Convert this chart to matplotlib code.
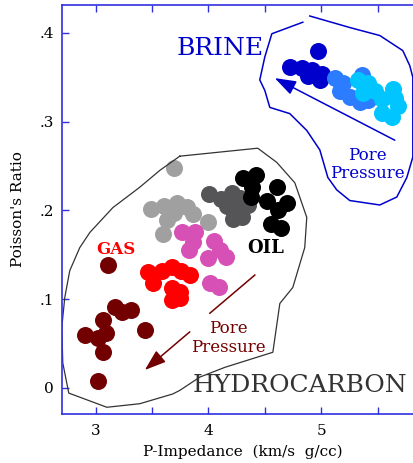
import matplotlib
matplotlib.use("Agg")
from matplotlib import pyplot as plt

plt.rcParams['font.family'] = ['DejaVu Serif']

# P-impedance (x) and Poisson's ratio (y) for every cloud of points
brown_x = [3.107, 3.169, 3.231, 3.311, 3.062, 3.435, 2.902, 3.089, 3.018, 3.062, 3.018]
brown_y = [0.138, 0.091, 0.085, 0.0875, 0.076, 0.065, 0.059, 0.062, 0.056, 0.040, 0.008]

red_x = [3.461, 3.586, 3.674, 3.754, 3.834, 3.506, 3.674, 3.745, 3.674, 3.745]
red_y = [0.130, 0.132, 0.136, 0.132, 0.127, 0.118, 0.112, 0.108, 0.099, 0.101]

lgray_x = [3.692, 3.488, 3.603, 3.719, 3.807, 3.861, 3.630, 3.594, 3.994, 3.692]
lgray_y = [0.248, 0.201, 0.205, 0.208, 0.204, 0.196, 0.189, 0.173, 0.187, 0.197]

magenta_x = [3.763, 3.878, 3.861, 3.825, 4.047, 4.100, 3.994, 4.153, 4.012, 4.091]
magenta_y = [0.175, 0.176, 0.164, 0.155, 0.165, 0.155, 0.146, 0.147, 0.118, 0.113]

dgray_x = [4.003, 4.109, 4.207, 4.278, 4.162, 4.233, 4.349, 4.216, 4.295]
dgray_y = [0.218, 0.2125, 0.220, 0.214, 0.205, 0.202, 0.206, 0.190, 0.193]

black_x = [4.304, 4.420, 4.384, 4.375, 4.517, 4.606, 4.695, 4.615, 4.553, 4.642]
black_y = [0.236, 0.240, 0.226, 0.215, 0.211, 0.226, 0.208, 0.200, 0.185, 0.180]

blue_x = [4.970, 4.721, 4.828, 4.917, 5.005, 4.988, 4.881]
blue_y = [0.380, 0.362, 0.360, 0.358, 0.354, 0.347, 0.351]

mblue_x = [5.121, 5.192, 5.165, 5.254, 5.343, 5.360, 5.413]
mblue_y = [0.349, 0.343, 0.335, 0.328, 0.322, 0.352, 0.324]

cyan_x = [5.325, 5.413, 5.369, 5.476, 5.635, 5.538, 5.680, 5.538, 5.626, 5.653]
cyan_y = [0.3465, 0.344, 0.332, 0.335, 0.337, 0.326, 0.318, 0.310, 0.305, 0.327]

# outlines
hc_x = [3.745, 4.437, 4.606, 4.766, 4.872, 4.854, 4.748, 4.633, 4.571, 4.145, 3.923, 3.745,
        3.683, 3.390, 3.098, 2.760, 2.707, 2.698, 2.725, 2.769, 2.858, 2.947, 3.151, 3.390,
        3.568, 3.745]
hc_y = [0.261, 0.270, 0.254, 0.231, 0.192, 0.158, 0.113, 0.095, 0.040, 0.023, 0.012, -0.003,
        -0.007, -0.018, -0.022, -0.006, 0.028, 0.068, 0.102, 0.132, 0.158, 0.175, 0.203, 0.226,
        0.245, 0.261]

brine_x = [4.899, 5.254, 5.520, 5.724, 5.786, 5.813, 5.813, 5.760, 5.671, 5.520, 5.254, 5.138,
           5.059, 4.988, 4.872, 4.721, 4.544, 4.500, 4.455, 4.500, 4.562, 4.837]
brine_y = [0.419, 0.406, 0.397, 0.380, 0.363, 0.350, 0.260, 0.237, 0.215, 0.206, 0.211, 0.223,
           0.237, 0.268, 0.290, 0.309, 0.316, 0.335, 0.347, 0.373, 0.399, 0.412]

x_ticks = [3, 4, 5]
x_minor = [3.5, 4.5, 5.5]
y_ticks = [0, 0.1, 0.2, 0.3, 0.4]
y_labels = ["0", ".1", ".2", ".3", ".4"]

AX_BLUE = '#3030e0'

fig = plt.figure(figsize=(4.13, 4.63), dpi=100)
ax = fig.add_axes([0.1501, 0.1058, 0.85, 0.8834])

ax.plot(hc_x, hc_y, '-', color='#333333', lw=0.9)
ax.plot(brine_x, brine_y, '-', color='#0000cc', lw=1.1)

s = 150
ax.scatter(brown_x, brown_y, s=s, c='#730000', lw=0)
ax.scatter(red_x, red_y, s=s, c='#ff0000', lw=0)
ax.scatter(lgray_x, lgray_y, s=s, c='#a0a0a0', lw=0)
ax.scatter(magenta_x, magenta_y, s=s, c='#d650b6', lw=0)
ax.scatter(dgray_x, dgray_y, s=s, c='#555558', lw=0)
ax.scatter(black_x, black_y, s=s, c='#000000', lw=0)
ax.scatter(blue_x, blue_y, s=s, c='#0000cd', lw=0)
ax.scatter(mblue_x, mblue_y, s=s, c='#2b7cff', lw=0)
ax.scatter(cyan_x, cyan_y, s=s, c='#00c5ff', lw=0)

# pore pressure arrows
ax.plot([4.411, 4.012], [0.127, 0.084], '-', color='#730000', lw=1.1)
ax.annotate("", xy=(3.435, 0.020), xytext=(3.834, 0.063),
            arrowprops=dict(arrowstyle='-|>,head_length=1.3,head_width=0.45',
                            color='#730000', lw=1.1, shrinkA=0, shrinkB=0))
ax.annotate("", xy=(4.588, 0.349), xytext=(5.653, 0.279),
            arrowprops=dict(arrowstyle='-|>,head_length=1.3,head_width=0.45',
                            color='#0000cc', lw=1.1, shrinkA=0, shrinkB=0))

ax.text(4.100, 0.382, "BRINE", color='#0000cc', fontsize=18, ha='center', va='center')
ax.text(4.810, 0.003, "HYDROCARBON", color='#333333', fontsize=18, ha='center', va='center')
ax.text(3.177, 0.156, "GAS", color='#ff0000', fontsize=12, fontweight='bold', ha='center', va='center')
ax.text(4.508, 0.157, "OIL", color='black', fontsize=13, fontweight='bold', ha='center', va='center')
ax.text(4.180, 0.056, "Pore\nPressure", color='#730000', fontsize=12, ha='center', va='center',
        linespacing=1.1)
ax.text(5.413, 0.252, "Pore\nPressure", color='#0000cc', fontsize=12, ha='center', va='center',
        linespacing=1.1)

ax.set_xlim(2.70, 5.815)
ax.set_ylim(-0.0296, 0.4314)
ax.set_xticks(x_ticks)
ax.set_xticks(x_minor, minor=True)
ax.set_yticks(y_ticks)
ax.set_yticklabels(y_labels)

ax.tick_params(axis='both', which='both', direction='in', color=AX_BLUE, length=5, width=1,
               labelsize=11, top=True)
ax.tick_params(axis='x', pad=7)
ax.tick_params(axis='y', pad=6)
for side in ['left', 'bottom', 'top']:
    ax.spines[side].set_color(AX_BLUE)
    ax.spines[side].set_linewidth(1.2)
ax.spines['right'].set_visible(False)

ax.set_xlabel("P-Impedance  (km/s  g/cc)", fontsize=11)
ax.set_ylabel("Poisson's Ratio", fontsize=11)
ax.xaxis.set_label_coords(0.516, -0.075)
ax.yaxis.set_label_coords(-0.105, 0.5)

fig.savefig("out.png", dpi=100)
